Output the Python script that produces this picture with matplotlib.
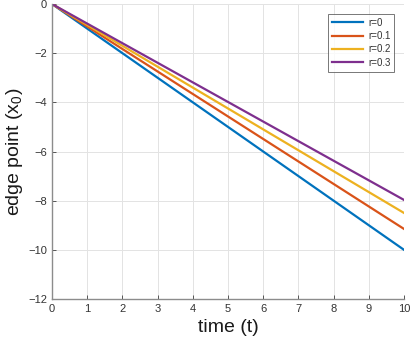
import matplotlib
matplotlib.use('Agg')
import matplotlib.pyplot as plt

# data
t = [0, 10]
labels = ['r=0', 'r=0.1', 'r=0.2', 'r=0.3']
end_values = [-10.0, -9.15, -8.5, -7.97]
colors = ['#0072BD', '#D95319', '#EDB120', '#7E2F8E']

plt.rcParams['font.family'] = ['Liberation Sans', 'DejaVu Sans']
plt.rcParams['mathtext.fontset'] = 'custom'
plt.rcParams['mathtext.rm'] = 'Liberation Sans'
plt.rcParams['mathtext.it'] = 'Liberation Sans'
plt.rcParams['mathtext.default'] = 'regular'

fig = plt.figure(figsize=(4.14, 3.43), dpi=100)
ax = fig.add_axes([52 / 414, 44 / 343, 352 / 414, 295 / 343])

for lab, v, c in zip(labels, end_values, colors):
    ax.plot(t, [0, v], color=c, linewidth=1.6, label=lab)

ax.set_xlim(0, 10)
ax.set_ylim(-12, 0)
ax.set_xticks(range(0, 11))
ax.set_yticks(range(-12, 1, 2))
ax.grid(True, color='#e3e3e3', linewidth=0.7)
ax.set_axisbelow(True)
ax.spines['top'].set_visible(False)
ax.spines['right'].set_visible(False)
for s in ('left', 'bottom'):
    ax.spines[s].set_color('#8c8c8c')
    ax.spines[s].set_linewidth(1.0)
ax.tick_params(labelsize=8, labelcolor='#333333', color='#555555',
               direction='in', length=3, width=0.7)
ax.set_xlabel('time (t)', fontsize=14, labelpad=4, color='#1a1a1a')
ax.set_ylabel('edge point (x$_0$)', fontsize=14, labelpad=2, color='#1a1a1a')

leg = ax.legend(loc='upper right', fontsize=7, frameon=True, fancybox=False,
                edgecolor='#555555', handlelength=3.2, borderaxespad=1.0,
                labelspacing=0.35, handletextpad=0.5)
leg.get_frame().set_linewidth(0.7)
for txt in leg.get_texts():
    txt.set_color('#333333')

fig.savefig('out.png', dpi=100)
